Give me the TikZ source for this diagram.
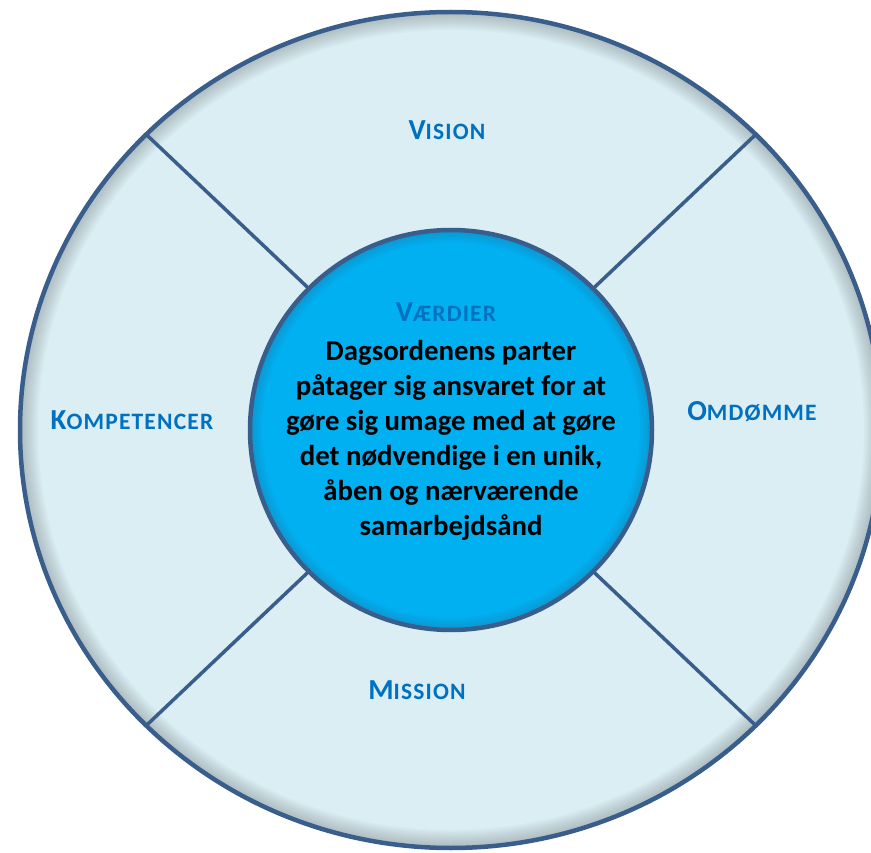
\documentclass[tikz,border=0pt]{standalone}
\usepackage{fontspec}
\setmainfont{Carlito}
\usetikzlibrary{calc}
\definecolor{rimblue}{HTML}{3A5E8C}
\definecolor{paleblue}{HTML}{DAEEF3}
\definecolor{coreblue}{HTML}{00B0F0}
\definecolor{labelblue}{HTML}{0070C0}
\tikzset{
    rim/.style={draw=rimblue, line width=4.5pt}, % outer and inner ring
    spoke/.style={draw=rimblue, line width=3.5pt}, % dividing lines
    sector label/.style={text=labelblue, font=\bfseries, inner sep=0pt},
    core text/.style={align=center, font=\bfseries\fontsize{28.8}{35}\selectfont, inner sep=0pt}
}
\newcommand{\caplabel}[2]{{\fontsize{29}{30}\selectfont #1}{\addfontfeature{LetterSpace=5}\fontsize{23.5}{30}\selectfont #2}}

\begin{document}
\begin{tikzpicture}[x=1pt, y=-1pt]
    \def\rxo{431} \def\ryo{418} \def\rxi{201} \def\ryi{200}
    \useasboundingbox (0,0) rectangle (871,853);
    \coordinate (c) at (451,430);

    % outer disc with a soft inner shadow
    \fill[paleblue] (c) ellipse [x radius=\rxo, y radius=\ryo];
    \begin{scope}
        \clip (c) ellipse [x radius=\rxo, y radius=\ryo];
        \foreach \w in {4,8,...,36} {\draw[black, opacity=0.025, line width=\w pt] (c) ellipse [x radius=\rxo, y radius=\ryo];}
    \end{scope}
    \draw[rim] (c) ellipse [x radius=\rxo, y radius=\ryo];

    % spokes between the rings
    \foreach \a in {45,135,225,315} {
        \coordinate (in\a) at ($(c)+({\a}:{\rxi} and {\ryi})$);
        \coordinate (out\a) at ($(c)+({\a}:{\rxo} and {\ryo})$);
        \draw[spoke] (in\a) -- (out\a);
    }

    % inner disc
    \fill[coreblue] (c) ellipse [x radius=\rxi, y radius=\ryi];
    \begin{scope}
        \clip (c) ellipse [x radius=\rxi, y radius=\ryi];
        \foreach \w in {4,8,...,24} {\draw[rimblue, opacity=0.05, line width=\w pt] (c) ellipse [x radius=\rxi, y radius=\ryi];}
    \end{scope}
    \draw[rim] (c) ellipse [x radius=\rxi, y radius=\ryi];

    \node[sector label] (vision) at (447,130) {\caplabel{V}{ISION}};
    \node[sector label] (kompetencer) at (132,420) {\caplabel{K}{OMPETENCER}};
    \node[sector label] (omdomme) at (752,412) {\caplabel{O}{MDØMME}};
    \node[sector label] (mission) at (417,690) {\caplabel{M}{ISSION}};
    \node[sector label] (vaerdier) at (446,312) {\caplabel{V}{ÆRDIER}};

    \node[core text] (tekst) at (451,440) {Dagsordenens parter\\påtager sig ansvaret for at\\gøre sig umage med at gøre\\det nødvendige i en unik,\\åben og nærværende\\samarbejdsånd};
\end{tikzpicture}
\end{document}
